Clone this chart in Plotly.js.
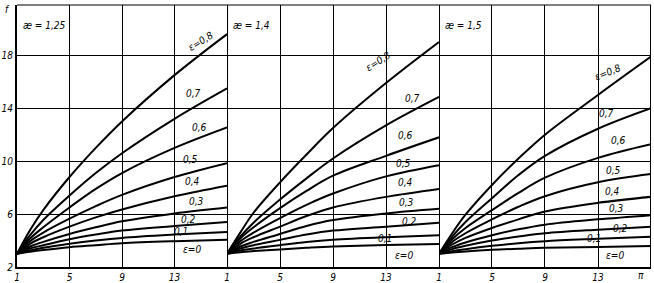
<!DOCTYPE html>
<html><head><meta charset="utf-8">
<script src="https://cdn.plot.ly/plotly-3.0.1.min.js"></script>
<style>html,body{margin:0;padding:0;background:#fff}#chart{width:654px;height:283px}</style>
</head><body><div id="chart"></div>
<script>
// pressure ratio values where curves were read
const piValues = [1, 2, 3, 5, 7, 9, 13, 17];
const epsValues = ['0,8', '0,7', '0,6', '0,5', '0,4', '0,3', '0,2', '0,1', '0'];
const kappaLabels = ['æ = 1,25', 'æ = 1,4', 'æ = 1,5'];
const xTicks = [1, 5, 9, 13];
const yTicks = [2, 6, 10, 14, 18];

// f values, panel 1 (æ = 1,25), rows eps 0.8 ... 0
const fPanel1 = [
  [3.0, 4.8, 6.3, 8.8, 11.0, 13.0, 16.5, 19.6],
  [3.0, 4.4, 5.55, 7.4, 9.1, 10.6, 13.2, 15.5],
  [3.0, 4.15, 5.0, 6.5, 7.9, 9.1, 11.0, 12.55],
  [3.0, 3.95, 4.6, 5.65, 6.6, 7.45, 8.8, 9.85],
  [3.0, 3.75, 4.25, 5.05, 5.75, 6.35, 7.35, 8.15],
  [3.0, 3.55, 3.9, 4.5, 5.0, 5.45, 6.05, 6.5],
  [3.0, 3.4, 3.65, 4.1, 4.45, 4.75, 5.1, 5.4],
  [3.0, 3.25, 3.45, 3.75, 4.0, 4.2, 4.45, 4.65],
  [3.0, 3.15, 3.28, 3.5, 3.65, 3.8, 3.95, 4.05]
];
// panel 2 (æ = 1,4)
const fPanel2 = [
  [3.0, 4.6, 6.1, 8.4, 10.5, 12.5, 15.9, 19.0],
  [3.0, 4.3, 5.35, 7.1, 8.7, 10.2, 12.7, 14.85],
  [3.0, 4.15, 5.0, 6.45, 7.75, 8.9, 10.4, 11.8],
  [3.0, 3.95, 4.6, 5.7, 6.7, 7.55, 8.85, 9.7],
  [3.0, 3.75, 4.25, 5.05, 5.85, 6.5, 7.3, 7.9],
  [3.0, 3.55, 3.9, 4.5, 5.1, 5.55, 6.05, 6.4],
  [3.0, 3.4, 3.65, 4.05, 4.45, 4.75, 5.05, 5.35],
  [3.0, 3.25, 3.4, 3.65, 3.88, 4.05, 4.25, 4.4],
  [3.0, 3.12, 3.2, 3.33, 3.45, 3.55, 3.66, 3.74]
];
// panel 3 (æ = 1,5)
const fPanel3 = [
  [3.0, 4.55, 5.95, 8.2, 10.2, 12.0, 15.0, 17.9],
  [3.0, 4.3, 5.4, 7.2, 8.95, 10.4, 12.45, 14.0],
  [3.0, 4.1, 4.95, 6.3, 7.6, 8.75, 10.25, 11.28],
  [3.0, 3.9, 4.55, 5.6, 6.55, 7.35, 8.4, 9.02],
  [3.0, 3.7, 4.2, 4.95, 5.6, 6.2, 6.85, 7.3],
  [3.0, 3.5, 3.85, 4.4, 4.85, 5.2, 5.6, 5.92],
  [3.0, 3.35, 3.6, 4.0, 4.3, 4.55, 4.82, 5.04],
  [3.0, 3.2, 3.35, 3.6, 3.8, 3.95, 4.13, 4.29],
  [3.0, 3.1, 3.18, 3.3, 3.38, 3.45, 3.52, 3.58]
];

const W = 654, H = 283;
const M = {l: 17, r: 3, t: 5, b: 16};
const PW = W - M.l - M.r, PH = H - M.t - M.b;
const px = x => (x - M.l) / PW;
const py = y => (H - M.b - y) / PH;

const panels = [fPanel1, fPanel2, fPanel3];
const xaxes = ['x', 'x2', 'x3'];
const traces = [];
panels.forEach((rows, p) => {
  rows.forEach((vals, i) => {
    traces.push({
      x: piValues, y: vals, xaxis: xaxes[p], yaxis: 'y',
      type: 'scatter', mode: 'lines',
      line: {color: '#000', width: 2, shape: 'spline', smoothing: 1.0},
      hoverinfo: 'skip', showlegend: false
    });
  });
});

const font = {family: 'DejaVu Sans Condensed, DejaVu Sans', size: 10, color: '#000', style: 'italic'};
const xBase = {
  range: [1, 17], tickvals: xTicks, showgrid: true, gridcolor: '#000', gridwidth: 1,
  zeroline: false, showline: true, linecolor: '#000', linewidth: 2,
  ticks: '', tickfont: font, ticklabelstandoff: 0, anchor: 'y', fixedrange: true
};
const layout = {
  width: W, height: H, margin: M, paper_bgcolor: '#fff', plot_bgcolor: '#fff',
  showlegend: false,
  xaxis: Object.assign({}, xBase, {domain: [0, 0.3313]}),
  xaxis2: Object.assign({}, xBase, {domain: [0.3313, 0.6656]}),
  xaxis3: Object.assign({}, xBase, {domain: [0.6656, 1]}),
  yaxis: {
    range: [2, 21.8], tickvals: yTicks, showgrid: true, gridcolor: '#000', gridwidth: 1,
    zeroline: false, showline: true, linecolor: '#000', linewidth: 2, ticks: '',
    tickfont: font, ticklabelstandoff: 0, fixedrange: true
  },
  shapes: [
    {type: 'line', xref: 'paper', yref: 'paper', x0: 0, x1: 1, y0: 1, y1: 1, line: {color: '#000', width: 1}},
    {type: 'line', xref: 'x2', yref: 'paper', x0: 1, x1: 1, y0: 0, y1: 1, line: {color: '#000', width: 2}},
    {type: 'line', xref: 'x3', yref: 'paper', x0: 1, x1: 1, y0: 0, y1: 1, line: {color: '#000', width: 2}},
    {type: 'line', xref: 'x3', yref: 'paper', x0: 17, x1: 17, y0: 0, y1: 1, line: {color: '#000', width: 2}}
  ],
  annotations: []
};

const ann = (text, x, y, extra) => layout.annotations.push(Object.assign({
  text, xref: 'paper', yref: 'paper', x: px(x), y: py(y), showarrow: false,
  font, xanchor: 'center', yanchor: 'middle'
}, extra || {}));

// axis titles
ann('f', 7, 9);
ann('π', 641, 275);
// panel labels
ann(kappaLabels[0], 44, 25);
ann(kappaLabels[1], 251, 25);
ann(kappaLabels[2], 464, 25);

// curve labels
const lab1 = [[200, 41], [193, 93], [199, 127], [190, 160], [192, 181], [196, 201], [188, 219], [181, 232], [192, 249]];
const lab2 = [[378, 62], [412, 98], [405, 135], [403, 163], [405, 182], [406, 202], [409, 221], [385, 238], [404, 255]];
const lab3 = [[607, 72], [606, 114], [618, 140], [613, 170], [612, 191], [616, 208], [620, 228], [594, 238], [615, 255]];
[lab1, lab2, lab3].forEach((labs, p) => {
  labs.forEach((pos, i) => {
    let t = epsValues[i];
    if (i === 0) t = 'ε=' + t;
    if (i === 8) t = 'ε=' + t;
    ann(t, pos[0], pos[1], i === 0 ? {textangle: p === 2 ? -22 : -32} : {});
  });
});

Plotly.newPlot('chart', traces, layout, {staticPlot: true, displayModeBar: false});
</script>
</body></html>
